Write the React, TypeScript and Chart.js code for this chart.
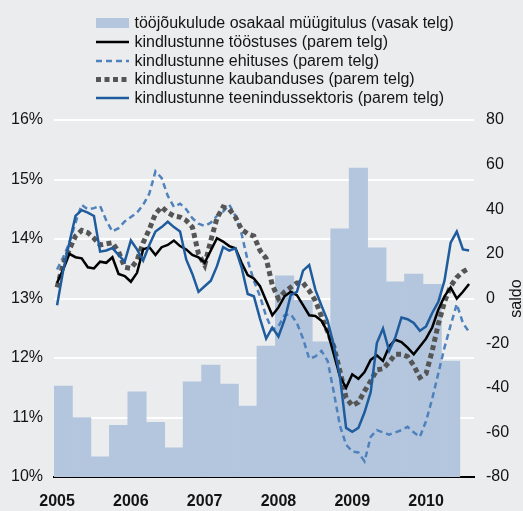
import React, { useEffect, useRef } from 'react';
import { Chart, registerables } from 'chart.js';

Chart.register(...registerables);

// Quarterly labour-cost share of sales (left axis, %), 2005 Q1 – 2010 Q2
const laborShare = [11.53, 11.0, 10.34, 10.87, 11.43, 10.92, 10.49, 11.6, 11.88, 11.56, 11.19, 12.2,
  13.38, 12.97, 12.27, 14.17, 15.19, 13.85, 13.28, 13.41, 13.24, 11.95];

// Monthly confidence indicators (right axis, saldo), Jan 2005 – Aug 2010
const industry = [7, 13, 20, 18.5, 18, 14, 13.5, 16.5, 16, 18.5, 11, 10, 7.5, 11.5, 22, 23, 19.5, 23, 24, 26,
  23.5, 22, 19.5, 18.5, 16, 21.5, 27, 25.5, 23.5, 22.5, 16, 10.5, 9, 5.5, -1, -7.5, -4, 1, 3, 1.5,
  -3, -7.5, -7.8, -10, -15, -25, -35, -40, -34, -36, -33, -27.5, -25.5, -28, -21.5, -18.5, -19.5, -22, -25, -21.5,
  -18, -13, -5, 1, 5, 0, 3, 6.5];

const construction = [13, 18.5, 25, 34, 42, 40, 40.5, 41.5, 35, 30, 31.5, 34.5, 36.5, 38.5, 42, 47, 57, 54, 46, 41,
  42.5, 40, 36, 33.5, 32.5, 34, 37, 39, 42, 37, 29, 17, 8, 1, -8, -14, -12.5, -7.5, -7, -11,
  -18, -27, -26, -23.5, -28, -42, -57, -65.5, -68.6, -69, -73, -62, -59, -60, -61, -60, -59, -57.5, -60, -62,
  -55, -45, -33.5, -22, -12, -2.5, -11, -15];

const trade = [5, 15.5, 22, 28, 30.5, 29.5, 27, 24, 24.5, 25, 21, 14, 13.5, 17, 25, 31, 38, 41, 38.5, 37,
  36.5, 35, 32, 20, 15, 26, 36, 41, 40, 36.5, 31, 29, 28, 21.5, 18, 6, 0, 3, 5, 7,
  7, 3.5, -1, -8, -14.7, -21.5, -32.5, -44.5, -48, -46.5, -41.5, -37, -32, -31.5, -28.5, -25, -25, -26, -30, -35.4,
  -33.7, -23.5, -11.5, -1.5, 5.5, 9.5, 12, 13.5];

const services = [-3, 12.7, 25, 37, 39.6, 38.5, 37, 21, 21.5, 22.6, 19.5, 16.5, 26, 22, 17, 24, 30, 32, 34.4, 32,
  30, 17.5, 11, 3, 5.5, 8, 14.5, 23, 21.5, 22.5, 14, 2, 1, -9, -18, -13, -17, -9.5, 1.5, 3,
  12.5, 15, 4, -3.2, -10, -21, -35, -58, -59.7, -58, -51, -42, -20, -13.5, -23.5, -17.5, -8.5, -9.3, -11, -14.5,
  -12.5, -6.5, -1.5, 8, 25, 30, 22, 21.5];

const yearLabels = ['2005', '2006', '2007', '2008', '2009', '2010'];
const legendLabels = [
  'tööjõukulude osakaal müügitulus (vasak telg)',
  'kindlustunne tööstuses (parem telg)',
  'kindlustunne ehituses (parem telg)',
  'kindlustunne kaubanduses (parem telg)',
  'kindlustunne teenindussektoris (parem telg)',
];
const rightAxisTitle = 'saldo';

const BG = '#ebecee';
const BAR = '#b3c6dd';
const BLACK = '#000000';
const LIGHTBLUE = '#4f81bd';
const GRAY = '#555555';
const BLUE = '#1f5c9e';
const FONT = '"Liberation Sans", Arial, Helvetica, sans-serif';
const TEXT = '#141414';

export default function App() {
  const ref = useRef<HTMLCanvasElement>(null);

  useEffect(() => {
    document.body.style.margin = '0';
    document.body.style.background = BG;
    const canvas = ref.current;
    if (!canvas) return;

    const barData = laborShare.map((v, q) => ({ x: q * 3 + 1, y: v }));
    const pts = (arr: number[]) => arr.map((v, i) => ({ x: i, y: v }));

    const bgPlugin = {
      id: 'bg',
      beforeDraw(c: any) {
        const ctx = c.ctx;
        ctx.save();
        ctx.fillStyle = BG;
        ctx.fillRect(0, 0, c.width, c.height);
        ctx.restore();
      },
    };

    const overlay = {
      id: 'overlay',
      afterDraw(c: any) {
        const ctx = c.ctx as CanvasRenderingContext2D;
        ctx.save();
        const rows = [23, 42, 61, 79.5, 98];
        const sx = 96, ex = 129, tx = 134.5;
        ctx.fillStyle = BAR;
        ctx.fillRect(sx, rows[0] - 5, ex - sx, 10);
        const line = (y: number, color: string, w: number, dash: number[]) => {
          ctx.beginPath();
          ctx.strokeStyle = color;
          ctx.lineWidth = w;
          ctx.setLineDash(dash);
          ctx.lineCap = 'butt';
          ctx.moveTo(sx, y);
          ctx.lineTo(ex, y);
          ctx.stroke();
        };
        line(rows[1], BLACK, 2.5, []);
        line(rows[2], LIGHTBLUE, 2.5, [6, 4]);
        line(rows[3], GRAY, 5, [5, 3.5]);
        line(rows[4], BLUE, 2.5, []);
        ctx.setLineDash([]);
        ctx.fillStyle = TEXT;
        ctx.font = `16px ${FONT}`;
        ctx.textAlign = 'left';
        ctx.textBaseline = 'middle';
        legendLabels.forEach((t, i) => ctx.fillText(t, tx, rows[i] + 0.5));

        const area = c.chartArea;
        ctx.translate(521, (area.top + area.bottom) / 2);
        ctx.rotate(-Math.PI / 2);
        ctx.textAlign = 'center';
        ctx.textBaseline = 'alphabetic';
        ctx.font = `16px ${FONT}`;
        ctx.fillText(rightAxisTitle, 0, 0);
        ctx.restore();
      },
    };

    const chart = new Chart(canvas, {
      type: 'bar',
      data: {
        datasets: [
          {
            type: 'bar',
            label: legendLabels[0],
            data: barData as any,
            backgroundColor: BAR,
            borderWidth: 0,
            barPercentage: 1,
            categoryPercentage: 1,
            xAxisID: 'x',
            yAxisID: 'yL',
            order: 10,
          },
          {
            type: 'line',
            label: legendLabels[2],
            data: pts(construction) as any,
            borderColor: LIGHTBLUE,
            borderWidth: 2.5,
            borderDash: [6, 4],
            pointRadius: 0,
            fill: false,
            tension: 0,
            xAxisID: 'x',
            yAxisID: 'yR',
            order: 4,
          },
          {
            type: 'line',
            label: legendLabels[3],
            data: pts(trade) as any,
            borderColor: GRAY,
            borderWidth: 5,
            borderDash: [5, 3.5],
            borderCapStyle: 'butt',
            pointRadius: 0,
            fill: false,
            tension: 0,
            xAxisID: 'x',
            yAxisID: 'yR',
            order: 3,
          },
          {
            type: 'line',
            label: legendLabels[1],
            data: pts(industry) as any,
            borderColor: BLACK,
            borderWidth: 2.5,
            pointRadius: 0,
            fill: false,
            tension: 0,
            xAxisID: 'x',
            yAxisID: 'yR',
            order: 2,
          },
          {
            type: 'line',
            label: legendLabels[4],
            data: pts(services) as any,
            borderColor: BLUE,
            borderWidth: 2.5,
            pointRadius: 0,
            fill: false,
            tension: 0,
            xAxisID: 'x',
            yAxisID: 'yR',
            order: 1,
          },
        ],
      },
      options: {
        responsive: false,
        animation: false,
        events: [],
        layout: { padding: { top: 120, left: 0, right: 0, bottom: 0 } },
        plugins: { legend: { display: false }, tooltip: { enabled: false } },
        scales: {
          x: {
            type: 'linear',
            min: -0.5,
            max: 67.8,
            offset: false,
            grid: { display: false, drawTicks: false },
            border: { display: true, color: '#000', width: 2 },
            afterBuildTicks: (s: any) => {
              s.ticks = yearLabels.map((_, i) => ({ value: i * 12 }));
            },
            ticks: {
              autoSkip: false,
              maxRotation: 0,
              padding: 15,
              color: TEXT,
              font: { family: FONT, size: 16, weight: 'bold' },
              callback: (v: any) => yearLabels[Math.round(Number(v) / 12)] ?? '',
            },
            afterFit: (s: any) => { s.height = 34; },
          },
          yL: {
            position: 'left',
            min: 10,
            max: 16,
            grid: { color: '#ffffff', lineWidth: 2, drawTicks: false },
            border: { display: false },
            ticks: {
              stepSize: 1,
              padding: 11,
              color: TEXT,
              font: { family: FONT, size: 16 },
              callback: (v: any) => `${v}%`,
            },
            afterFit: (s: any) => { s.width = 54; },
          },
          yR: {
            position: 'right',
            min: -80,
            max: 80,
            grid: { display: false, drawTicks: false },
            border: { display: false },
            ticks: {
              stepSize: 20,
              padding: 12,
              color: TEXT,
              font: { family: FONT, size: 16 },
            },
            afterFit: (s: any) => { s.width = 49; },
          },
        },
      } as any,
      plugins: [bgPlugin, overlay],
    });

    return () => chart.destroy();
  }, []);

  return <canvas ref={ref} width={523} height={511} style={{ display: 'block' }} />;
}
